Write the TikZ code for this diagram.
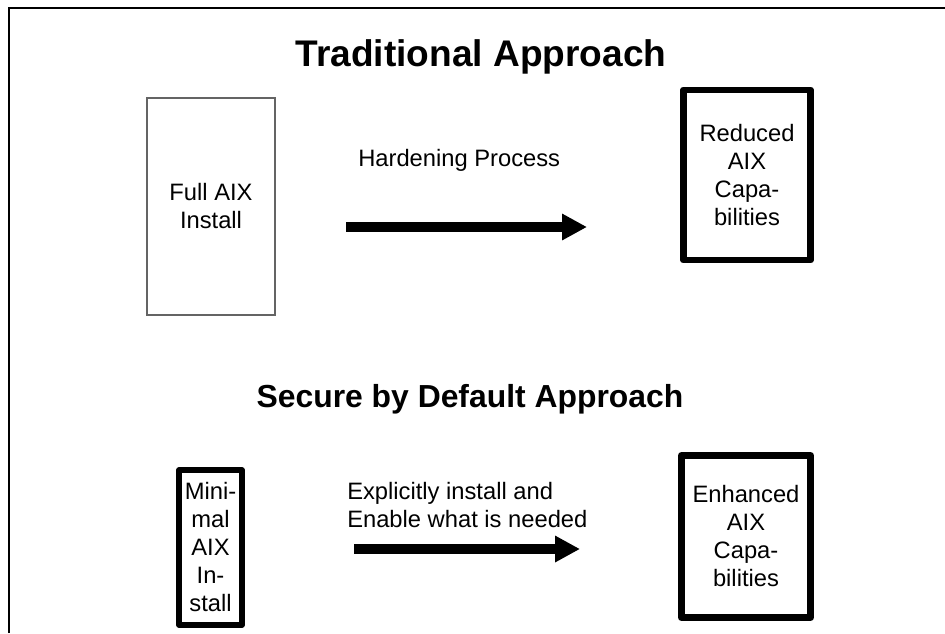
\documentclass[tikz,border=0pt]{standalone}
\usepackage{fontspec}
\setmainfont{Liberation Sans}
\usetikzlibrary{arrows.meta}
\tikzset{
  body/.style={font=\fontsize{17.8pt}{21pt}\selectfont, inner sep=0pt},
  thinbox/.style={body, draw={rgb,255:red,100;green,100;blue,100}, line width=0.9pt, align=center},
  thickbox/.style={body, draw=black, line width=5.2pt, line join=round, align=center},
  bigarrow/.style={line width=7.5pt, -{Triangle[length=18.75pt,width=18.75pt]}},
  title/.style={font=\bfseries\fontsize{#1}{#1}\selectfont, inner sep=0pt, anchor=base}
}
\begin{document}
\begin{tikzpicture}[x=0.75pt,y=-0.75pt]
\useasboundingbox (0,0) rectangle (945,633);
% frame
\draw[line width=0.9pt] (9,633) -- (9,8) -- (945,8);
% titles
\node[title=27.8pt] (t1) at (481,66) {Traditional Approach};
\node[title=23.9pt] (t2) at (470,407) {Secure by Default Approach};
% traditional
\node[thinbox, minimum width=96pt, minimum height=162.75pt] (full) at (211,206.5) {Full AIX\\Install};
\node[thickbox, minimum width=95.25pt, minimum height=127.5pt] (reduced) at (747,175) {Reduced\\AIX\\Capa-\\bilities};
\node[body, anchor=base west] (hard) at (358,166) {Hardening Process};
\coordinate (a1s) at (346,227);
\coordinate (a1e) at (587,227);
\draw[bigarrow] (a1s) -- (a1e);
% secure by default
\node[thickbox, line width=4.3pt, minimum width=47.25pt, minimum height=116.25pt] (minimal) at (210.5,547.5) {Mini-\\mal\\AIX\\In-\\stall};
\node[thickbox, minimum width=96.75pt, minimum height=121.5pt] (enhanced) at (746,536.5) {Enhanced\\AIX\\Capa-\\bilities};
\node[body, align=left, anchor=north west] (expl) at (347,482) {Explicitly install and\\Enable what is needed};
\coordinate (a2s) at (354,549);
\coordinate (a2e) at (580,549);
\draw[bigarrow] (a2s) -- (a2e);
\end{tikzpicture}
\end{document}
